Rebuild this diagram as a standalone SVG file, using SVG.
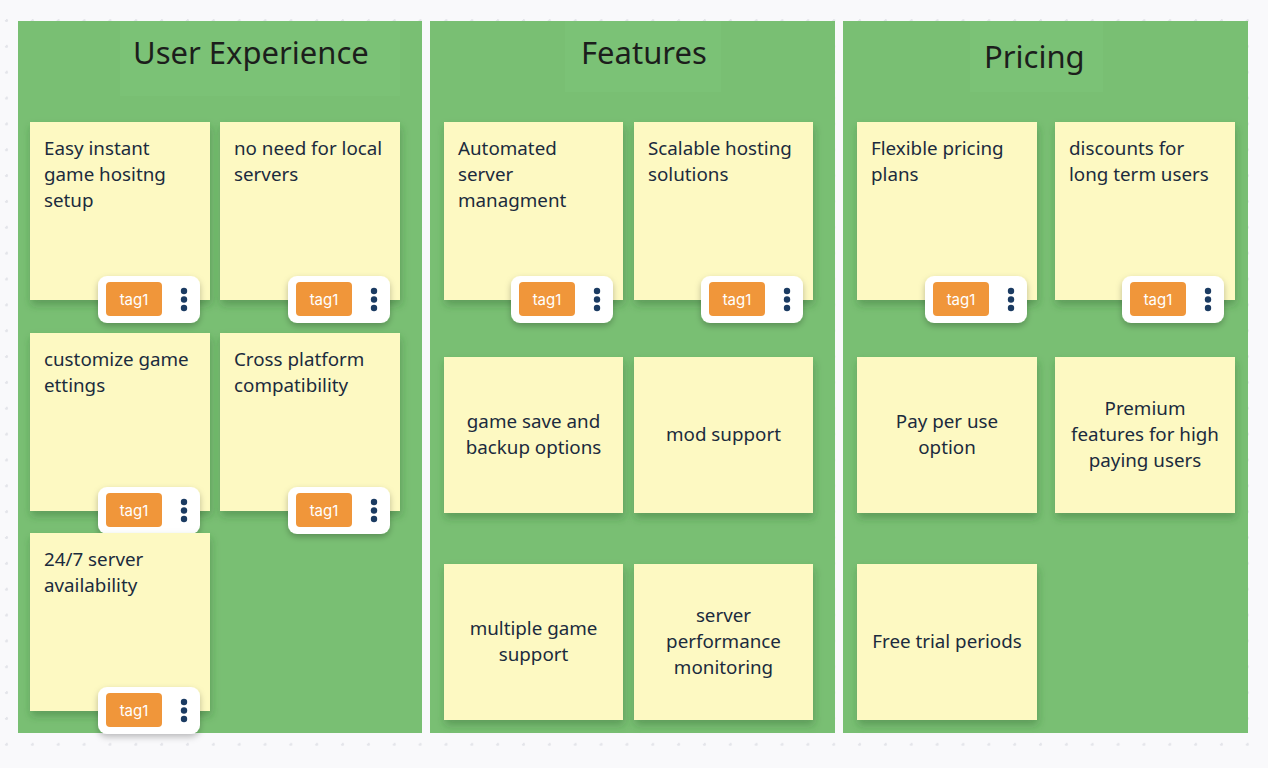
<svg xmlns="http://www.w3.org/2000/svg" width="1268" height="768" viewBox="0 0 1268 768">
<defs>
<pattern id="dots" x="6" y="20" width="25.85" height="25.85" patternUnits="userSpaceOnUse">
<circle cx="0.5" cy="0.5" r="1.6" fill="#e4e5ea"/>
<circle cx="26.35" cy="0.5" r="1.6" fill="#e4e5ea"/>
<circle cx="0.5" cy="26.35" r="1.6" fill="#e4e5ea"/>
</pattern>
<filter id="sh" x="-20%" y="-20%" width="150%" height="150%">
<feDropShadow dx="1" dy="5" stdDeviation="4" flood-color="#2a5a26" flood-opacity="0.35"/>
</filter>
<filter id="tsh" x="-20%" y="-20%" width="140%" height="160%">
<feDropShadow dx="0" dy="3" stdDeviation="3" flood-color="#000" flood-opacity="0.25"/>
</filter>
<g id="tagbar">
<rect x="0" y="0" width="102" height="47" rx="9" fill="#ffffff" filter="url(#tsh)"/>
<rect x="8" y="6" width="56" height="34" rx="4" fill="#f0963a"/>
<text x="36" y="29" class="tag">tag1</text>
<circle cx="86" cy="15" r="3.2" fill="#1b3b62"/>
<circle cx="86" cy="23.5" r="3.2" fill="#1b3b62"/>
<circle cx="86" cy="32" r="3.2" fill="#1b3b62"/>
</g>
</defs>
<style>
.panel{fill:#79bf73;}
.hdr{fill:#7bc276;}
.title{font-family:"Noto Sans","Open Sans",sans-serif;font-size:31px;fill:#1c1e1c;}
.note{fill:#fdf9c2;filter:url(#sh);}
.t{font-family:"Noto Sans","Open Sans",sans-serif;font-size:18.8px;fill:#1b2b3d;}
.c{text-anchor:middle;}
.tag{font-family:Inter,"Liberation Sans",sans-serif;font-size:15px;fill:#ffffff;text-anchor:middle;}
</style>
<rect width="1268" height="768" fill="#f9f9fb"/>
<rect x="0" y="0" width="1268" height="768" fill="url(#dots)"/>

<g id="panel-user-experience">
<rect class="panel" x="18" y="21" width="404" height="712"/>
<rect class="hdr" x="120" y="21" width="280" height="75"/>
<text class="title" x="133" y="64">User Experience</text>
</g>
<g id="panel-features">
<rect class="panel" x="430" y="21" width="405" height="712"/>
<rect class="hdr" x="565" y="21" width="156" height="71"/>
<text class="title" x="581" y="64">Features</text>
</g>
<g id="panel-pricing">
<rect class="panel" x="843" y="21" width="405" height="712"/>
<rect class="hdr" x="970" y="21" width="133" height="71"/>
<text class="title" x="984" y="68">Pricing</text>
</g>

<g id="note-easy-instant">
<rect class="note" x="30" y="122" width="180" height="178"/>
<text class="t" x="44" y="155">Easy instant</text>
<text class="t" x="44" y="181">game hositng</text>
<text class="t" x="44" y="207">setup</text>
<use href="#tagbar" x="98" y="276"/>
</g>
<g id="note-no-local-servers">
<rect class="note" x="220" y="122" width="180" height="178"/>
<text class="t" x="234" y="155">no need for local</text>
<text class="t" x="234" y="181">servers</text>
<use href="#tagbar" x="288" y="276"/>
</g>
<g id="note-customize">
<rect class="note" x="30" y="333" width="180" height="178"/>
<text class="t" x="44" y="366">customize game</text>
<text class="t" x="44" y="392">ettings</text>
<use href="#tagbar" x="98" y="487"/>
</g>
<g id="note-cross-platform">
<rect class="note" x="220" y="333" width="180" height="178"/>
<text class="t" x="234" y="366">Cross platform</text>
<text class="t" x="234" y="392">compatibility</text>
<use href="#tagbar" x="288" y="487"/>
</g>
<g id="note-24-7">
<rect class="note" x="30" y="533" width="180" height="178"/>
<text class="t" x="44" y="566">24/7 server</text>
<text class="t" x="44" y="592">availability</text>
<use href="#tagbar" x="98" y="687"/>
</g>

<g id="note-automated">
<rect class="note" x="444" y="122" width="179" height="178"/>
<text class="t" x="458" y="155">Automated</text>
<text class="t" x="458" y="181">server</text>
<text class="t" x="458" y="207">managment</text>
<use href="#tagbar" x="511" y="276"/>
</g>
<g id="note-scalable">
<rect class="note" x="634" y="122" width="179" height="178"/>
<text class="t" x="648" y="155">Scalable hosting</text>
<text class="t" x="648" y="181">solutions</text>
<use href="#tagbar" x="701" y="276"/>
</g>
<g id="note-game-save">
<rect class="note" x="444" y="357" width="179" height="156"/>
<text class="t c" x="533.5" y="428">game save and</text>
<text class="t c" x="533.5" y="454">backup options</text>
</g>
<g id="note-mod-support">
<rect class="note" x="634" y="357" width="179" height="156"/>
<text class="t c" x="723.5" y="441">mod support</text>
</g>
<g id="note-multiple-game">
<rect class="note" x="444" y="564" width="179" height="156"/>
<text class="t c" x="533.5" y="635">multiple game</text>
<text class="t c" x="533.5" y="661">support</text>
</g>
<g id="note-monitoring">
<rect class="note" x="634" y="564" width="179" height="156"/>
<text class="t c" x="723.5" y="622">server</text>
<text class="t c" x="723.5" y="648">performance</text>
<text class="t c" x="723.5" y="674">monitoring</text>
</g>

<g id="note-flexible">
<rect class="note" x="857" y="122" width="180" height="178"/>
<text class="t" x="871" y="155">Flexible pricing</text>
<text class="t" x="871" y="181">plans</text>
<use href="#tagbar" x="925" y="276"/>
</g>
<g id="note-discounts">
<rect class="note" x="1055" y="122" width="180" height="178"/>
<text class="t" x="1069" y="155">discounts for</text>
<text class="t" x="1069" y="181">long term users</text>
<use href="#tagbar" x="1122" y="276"/>
</g>
<g id="note-pay-per-use">
<rect class="note" x="857" y="357" width="180" height="156"/>
<text class="t c" x="947" y="428">Pay per use</text>
<text class="t c" x="947" y="454">option</text>
</g>
<g id="note-premium">
<rect class="note" x="1055" y="357" width="180" height="156"/>
<text class="t c" x="1145" y="415">Premium</text>
<text class="t c" x="1145" y="441">features for high</text>
<text class="t c" x="1145" y="467">paying users</text>
</g>
<g id="note-free-trial">
<rect class="note" x="857" y="564" width="180" height="156"/>
<text class="t c" x="947" y="648">Free trial periods</text>
</g>

<g id="connectors"></g>
</svg>
